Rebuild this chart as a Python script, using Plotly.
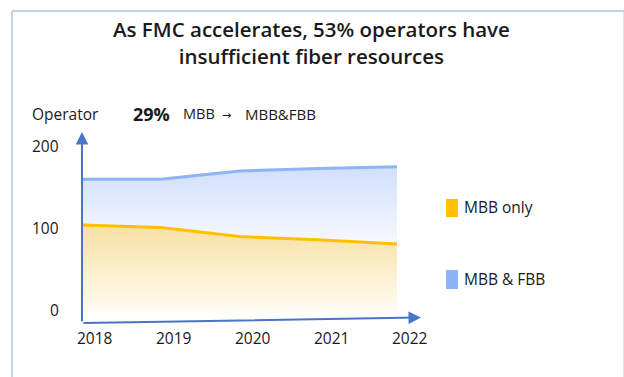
import plotly.graph_objects as go

# Operator counts per year
years = [2018, 2019, 2020, 2021, 2022]
mbb_only = [106, 103, 92, 88, 83]
mbb_fbb = [162, 162, 172, 175, 177]
y_ticks = [0, 100, 200]
year_labels = ["2018", "2019", "2020", "2021", "2022"]
title_text = "As FMC accelerates, 53% operators have<br>insufficient fiber resources"

W, H = 624, 377
FONT = "Open Sans"
TEXT = "#1a1a1a"
AXIS_BLUE = "#4a74c9"
ORANGE = "#ffc000"
BLUE = "#8db4f8"


def px(x):
    return x / W


def py(y):
    return 1 - y / H


fig = go.Figure()

fig.add_trace(go.Scatter(
    x=years, y=mbb_only, mode="lines",
    line=dict(color=ORANGE, width=3),
    fill="tozeroy",
    fillgradient=dict(type="vertical", start=0, stop=max(mbb_only),
                      colorscale=[[0, "rgba(255,252,245,1)"],
                                  [1, "rgba(248,224,160,1)"]]),
    hoverinfo="skip", showlegend=False,
))
fig.add_trace(go.Scatter(
    x=years, y=mbb_fbb, mode="lines",
    line=dict(color=BLUE, width=3),
    fill="tonexty",
    fillgradient=dict(type="vertical", start=min(mbb_only), stop=max(mbb_fbb),
                      colorscale=[[0, "rgba(247,249,255,1)"],
                                  [1, "rgba(208,223,252,1)"]]),
    hoverinfo="skip", showlegend=False,
))

ann = []
# title
ann.append(dict(x=px(311), y=py(43), xref="paper", yref="paper",
                text=title_text, showarrow=False, xanchor="center", yanchor="middle",
                font=dict(family=FONT, size=20.5, color=TEXT, weight=600)))
# axis caption and headline figure
ann.append(dict(x=px(30), y=py(114), xref="paper", yref="paper", text="Operator",
                showarrow=False, xanchor="left", yanchor="middle",
                font=dict(family=FONT, size=15.5, color=TEXT)))
ann.append(dict(x=px(131), y=py(114), xref="paper", yref="paper",
                text="<b>29%</b>",
                showarrow=False, xanchor="left", yanchor="middle",
                font=dict(family=FONT, size=18, color=TEXT)))
ann.append(dict(x=px(181), y=py(114), xref="paper", yref="paper",
                text="MBB", showarrow=False, xanchor="left", yanchor="middle",
                font=dict(family=FONT, size=14.5, color=TEXT)))
ann.append(dict(x=px(226), y=py(115), xref="paper", yref="paper",
                text="→", showarrow=False, xanchor="center", yanchor="middle",
                font=dict(family="DejaVu Sans", size=11, color=TEXT)))
ann.append(dict(x=px(243), y=py(114), xref="paper", yref="paper",
                text="MBB&amp;FBB", showarrow=False, xanchor="left", yanchor="middle",
                font=dict(family=FONT, size=15, color=TEXT)))

# y tick labels
for v in y_ticks:
    ann.append(dict(x=px(61), y=v, xref="paper", yref="y", text=str(v),
                    showarrow=False, xanchor="right", yanchor="middle", yshift=2,
                    font=dict(family=FONT, size=15.5, color=TEXT)))
# x tick labels
for yr, lab in zip(years, year_labels):
    ann.append(dict(x=yr, y=py(338), xref="x", yref="paper", text=lab,
                    showarrow=False, xanchor="center", yanchor="middle", xshift=13,
                    font=dict(family=FONT, size=15.5, color=TEXT)))

# axis arrows
ann.append(dict(x=px(82), y=py(132), xref="paper", yref="paper", text="",
                showarrow=True, ax=0, ay=191, arrowhead=2, arrowsize=1.25,
                arrowwidth=2, arrowcolor=AXIS_BLUE))
ann.append(dict(x=px(421), y=py(317.5), xref="paper", yref="paper", text="",
                showarrow=True, ax=-339, ay=5.5, arrowhead=2, arrowsize=1.25,
                arrowwidth=2, arrowcolor=AXIS_BLUE))

# legend
ann.append(dict(x=px(462), y=py(207), xref="paper", yref="paper", text="MBB only",
                showarrow=False, xanchor="left", yanchor="middle",
                font=dict(family=FONT, size=15.5, color=TEXT)))
ann.append(dict(x=px(462), y=py(279), xref="paper", yref="paper", text="MBB &amp; FBB",
                showarrow=False, xanchor="left", yanchor="middle",
                font=dict(family=FONT, size=15.5, color=TEXT)))

shapes = [
    # panel frame
    dict(type="line", xref="paper", yref="paper", x0=px(12), x1=px(624),
         y0=py(11), y1=py(11), line=dict(color="#bdd6ee", width=2)),
    dict(type="line", xref="paper", yref="paper", x0=px(12), x1=px(12),
         y0=py(11), y1=py(380), line=dict(color="#bdd6ee", width=2)),
    dict(type="line", xref="paper", yref="paper", x0=px(623.5), x1=px(623.5),
         y0=py(12), y1=py(380), line=dict(color="#e4e4e4", width=1)),
    # legend swatches
    dict(type="rect", xref="paper", yref="paper", x0=px(446), x1=px(458),
         y0=py(199), y1=py(217), fillcolor=ORANGE, line=dict(width=0)),
    dict(type="rect", xref="paper", yref="paper", x0=px(446), x1=px(458),
         y0=py(270), y1=py(289), fillcolor=BLUE, line=dict(width=0)),
]

# axis ranges chosen so 2018..2022 spans x 82..397 px and 0 sits at y 312 px
x_per_px = 4 / (397 - 82)
y_per_px = 1 / 0.82
fig.update_layout(
    width=W, height=H,
    margin=dict(l=0, r=0, t=0, b=0),
    paper_bgcolor="white", plot_bgcolor="white",
    xaxis=dict(visible=False, range=[2018 - 82 * x_per_px, 2022 + (W - 397) * x_per_px],
               fixedrange=True),
    yaxis=dict(visible=False, range=[-(H - 312) * y_per_px, 312 * y_per_px],
               fixedrange=True),
    annotations=ann, shapes=shapes,
    showlegend=False,
)

fig.write_html("out.html")
